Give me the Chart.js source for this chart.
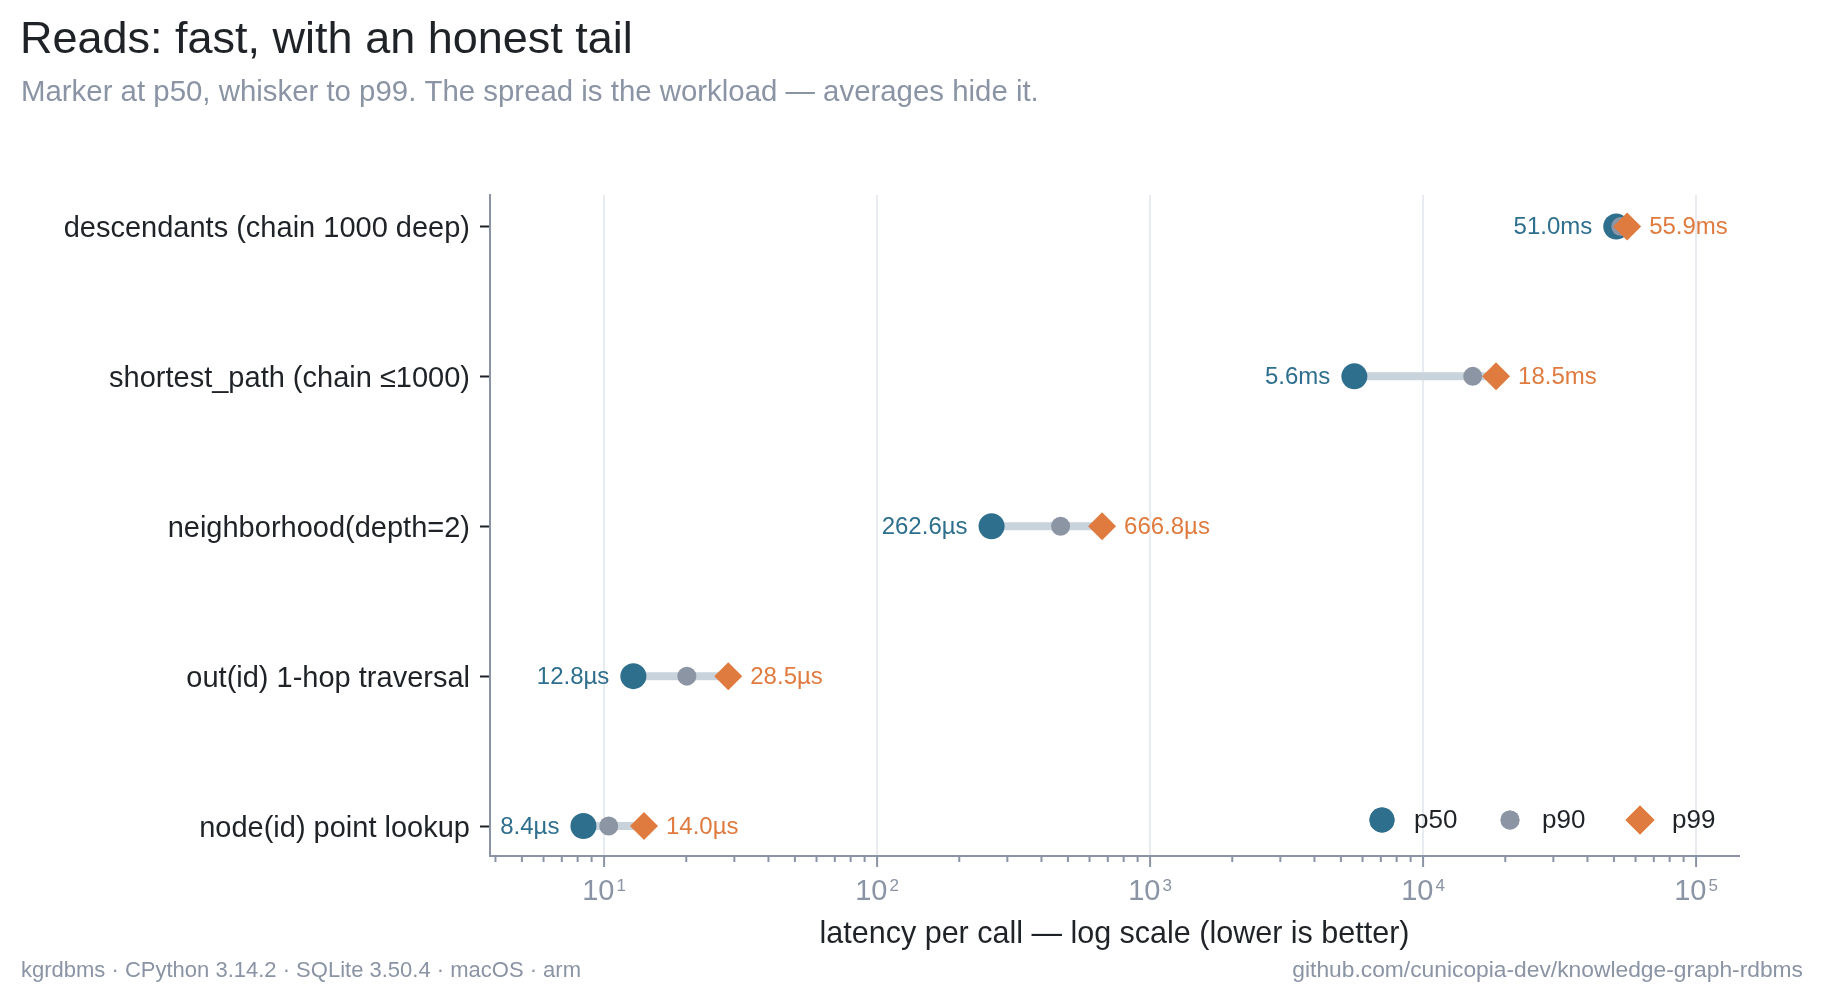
<!DOCTYPE html>
<html>
<head>
<meta charset="utf-8">
<title>Reads: fast, with an honest tail</title>
<script src="https://cdn.jsdelivr.net/npm/chart.js@4.4.1/dist/chart.umd.min.js"></script>
<style>
  html, body { margin: 0; padding: 0; background: #fff; }
  canvas { display: block; }
</style>
</head>
<body>
<canvas id="myCanvas" width="1824" height="1000"></canvas>
<script>
'use strict';

// rows top to bottom, latency per call in microseconds
const queries = [
  'descendants (chain 1000 deep)',
  'shortest_path (chain ≤1000)',
  'neighborhood(depth=2)',
  'out(id) 1-hop traversal',
  'node(id) point lookup'
];
const p50 = [51000, 5600, 262.6, 12.8, 8.4];
const p90 = [53000, 15200, 470, 20.1, 10.4];
const p99 = [55900, 18500, 666.8, 28.5, 14.0];
const decadeExponents = [1, 2, 3, 4, 5];

const FONT = '"Liberation Sans", Arial, Helvetica, sans-serif';
const DARK = '#1f2328';
const MUTED = '#8a94a5';
const GRID = '#e8ebef';
const TEAL = '#2e6f8e';
const GREY = '#8c95a4';
const ORANGE = '#e07b3f';
const WHISKER = '#c9d3dc';

Chart.defaults.font.family = FONT;

function rowY(i) {
  return queries.length - 1 - i;
}

function toPoints(values) {
  return values.map((v, i) => ({ x: v, y: rowY(i) }));
}

function fmt(us) {
  if (us >= 1000) {
    return (us / 1000).toFixed(1) + 'ms';
  }
  return us.toFixed(1) + 'µs';
}

let datasets = [
  { label: 'p99', data: toPoints(p99), pointStyle: 'rectRot', pointRadius: 14, backgroundColor: ORANGE, borderWidth: 0, order: 0 },
  { label: 'p90', data: toPoints(p90), pointStyle: 'circle', pointRadius: 9.5, backgroundColor: GREY, borderWidth: 0, order: 1 },
  { label: 'p50', data: toPoints(p50), pointStyle: 'circle', pointRadius: 13, backgroundColor: TEAL, borderWidth: 0, order: 2 }
];

for (let i = 0; i < queries.length; i++) {
  datasets.push({
    label: 'whisker ' + i,
    data: [{ x: p50[i], y: rowY(i) }, { x: p99[i], y: rowY(i) }],
    showLine: true,
    borderColor: WHISKER,
    borderWidth: 8,
    borderCapStyle: 'butt',
    pointRadius: 0,
    order: 5
  });
}

// value labels next to the p50 and p99 markers
const valueLabels = {
  id: 'valueLabels',
  afterDatasetsDraw(chart) {
    const ctx = chart.ctx;
    const lo = chart.getDatasetMeta(2).data;
    const hi = chart.getDatasetMeta(0).data;
    ctx.save();
    ctx.font = '24px ' + FONT;
    ctx.textBaseline = 'middle';
    for (let i = 0; i < queries.length; i++) {
      ctx.fillStyle = TEAL;
      ctx.textAlign = 'right';
      ctx.fillText(fmt(p50[i]), lo[i].x - 24, lo[i].y + 1);
      ctx.fillStyle = ORANGE;
      ctx.textAlign = 'left';
      ctx.fillText(fmt(p99[i]), hi[i].x + 22, hi[i].y + 1);
    }
    ctx.restore();
  }
};

// decade labels, tick marks, legend, headings and footer
const decorations = {
  id: 'decorations',
  afterDraw(chart) {
    const ctx = chart.ctx;
    const xs = chart.scales.x;
    const area = chart.chartArea;
    ctx.save();

    // tick marks under the x axis
    ctx.strokeStyle = MUTED;
    ctx.lineWidth = 2;
    xs.ticks.forEach(t => {
      const px = xs.getPixelForValue(t.value);
      ctx.beginPath();
      ctx.moveTo(px, area.bottom);
      ctx.lineTo(px, area.bottom + (t.major ? 11 : 6));
      ctx.stroke();
    });

    // 10^n labels
    ctx.fillStyle = MUTED;
    ctx.textBaseline = 'alphabetic';
    decadeExponents.forEach(e => {
      const px = xs.getPixelForValue(Math.pow(10, e));
      ctx.font = '29px ' + FONT;
      const wBase = ctx.measureText('10').width;
      ctx.font = '17px ' + FONT;
      const wExp = ctx.measureText(String(e)).width;
      const left = px - (wBase + wExp + 2) / 2;
      ctx.font = '29px ' + FONT;
      ctx.textAlign = 'left';
      ctx.fillText('10', left, area.bottom + 44);
      ctx.font = '17px ' + FONT;
      ctx.fillText(String(e), left + wBase + 2, area.bottom + 35);
    });

    // legend
    const ly = area.bottom - 36;
    const items = [
      { text: 'p50', color: TEAL, style: 'circle', r: 12.5, dx: 357 },
      { text: 'p90', color: GREY, style: 'circle', r: 9.5, dx: 229 },
      { text: 'p99', color: ORANGE, style: 'rectRot', r: 14.5, dx: 99 }
    ];
    ctx.font = '26px ' + FONT;
    ctx.textBaseline = 'middle';
    ctx.textAlign = 'left';
    items.forEach(it => {
      const cx = area.right - it.dx;
      ctx.fillStyle = it.color;
      Chart.helpers.drawPoint(ctx, { pointStyle: it.style, radius: it.r, borderWidth: 0 }, cx, ly);
      ctx.fill();
      ctx.fillStyle = DARK;
      ctx.fillText(it.text, cx + 32, ly + 1);
    });

    // title, subtitle and footer
    ctx.textAlign = 'left';
    ctx.fillStyle = DARK;
    ctx.font = '45px ' + FONT;
    ctx.fillText('Reads: fast, with an honest tail', 20, 41);
    ctx.fillStyle = MUTED;
    ctx.font = '29.4px ' + FONT;
    ctx.fillText('Marker at p50, whisker to p99. The spread is the workload — averages hide it.', 21, 93);
    ctx.font = '22px ' + FONT;
    ctx.fillText('kgrdbms · CPython 3.14.2 · SQLite 3.50.4 · macOS · arm', 21, 971);
    ctx.textAlign = 'right';
    ctx.font = '22.8px ' + FONT;
    ctx.fillText('github.com/cunicopia-dev/knowledge-graph-rdbms', 1803, 971);
    ctx.restore();
  }
};

const config = {
  type: 'scatter',
  data: { datasets: datasets },
  options: {
    responsive: false,
    animation: false,
    layout: { padding: { left: 21, right: 85, top: 195, bottom: 0 } },
    plugins: {
      legend: { display: false },
      tooltip: { enabled: false },
      title: { display: false }
    },
    scales: {
      x: {
        type: 'logarithmic',
        min: 3.82,
        max: 143600,
        afterBuildTicks: scale => {
          let ticks = [];
          for (let e = 0; e <= 5; e++) {
            for (let k = 1; k <= 9; k++) {
              const v = k * Math.pow(10, e);
              if (v >= scale.min && v <= scale.max) {
                ticks.push({ value: v, major: k === 1 });
              }
            }
          }
          scale.ticks = ticks;
        },
        afterFit: scale => { scale.height = 144; },
        ticks: { display: false },
        grid: {
          drawTicks: false,
          lineWidth: 2,
          color: c => (c.tick && c.tick.major ? GRID : 'rgba(0,0,0,0)')
        },
        border: { display: true, color: MUTED, width: 2 },
        title: {
          display: true,
          text: 'latency per call — log scale (lower is better)',
          color: DARK,
          font: { size: 30.5 },
          padding: { top: 0, bottom: 47 }
        }
      },
      y: {
        type: 'linear',
        min: -0.2,
        max: 4.21,
        afterBuildTicks: scale => {
          scale.ticks = queries.map((q, i) => ({ value: i }));
        },
        afterFit: scale => { scale.width = 469; },
        ticks: {
          callback: v => queries[rowY(v)],
          color: DARK,
          font: { size: 29 },
          padding: 10,
          labelOffset: 3
        },
        grid: { drawOnChartArea: false, drawTicks: true, tickLength: 10, tickColor: DARK, tickWidth: 2 },
        border: { display: true, color: MUTED, width: 2 }
      }
    }
  },
  plugins: [valueLabels, decorations]
};

const myChart = new Chart(document.getElementById('myCanvas'), config);
</script>
</body>
</html>
